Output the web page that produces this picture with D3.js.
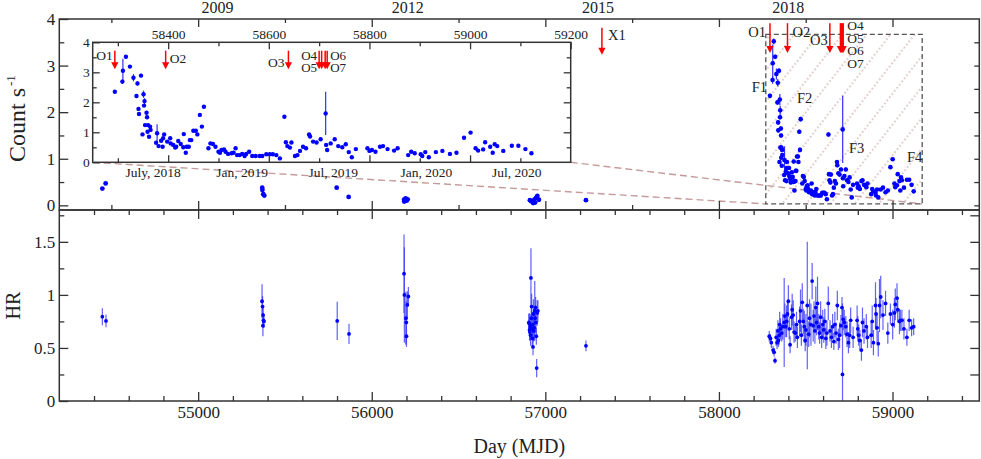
<!DOCTYPE html>
<head>
  <meta charset="utf-8">
  <script src="https://d3js.org/d3.v7.min.js"></script>
  <style>
    body { margin: 0; background: #fff; }
    svg { display: block; }
    text { font-family: "Liberation Serif", "DejaVu Serif", serif; fill: #222; }
  </style>
</head>

<body>
  <svg width="981" height="459"></svg>

  <script>
    // ---- data ----
    // flare monitoring 2018-2020 (inset + hatched box)
    const flareMjd = [58294, 58309, 58310, 58316, 58324, 58331, 58339, 58346, 58337, 58341, 58342, 58351, 58353, 58352,
      58357, 58358, 58354, 58360, 58364, 58349, 58359, 58365, 58362, 58376, 58378, 58381, 58386, 58389, 58392, 58390,
      58398, 58404, 58405, 58410, 58414, 58416, 58420, 58425, 58430, 58431, 58435, 58437, 58441, 58443, 58446, 58450,
      58455, 58458, 58463, 58467, 58471, 58480, 58484, 58489, 58494, 58500, 58503, 58506, 58511, 58514, 58519, 58526,
      58530, 58534, 58537, 58542, 58547, 58552, 58555, 58561, 58567, 58574, 58582, 58587, 58595, 58602, 58608, 58615,
      58622, 58631, 58634, 58637, 58642, 58645, 58652, 58657, 58662, 58668, 58674, 58680, 58682, 58688, 58695, 58703,
      58713, 58714, 58716, 58723, 58731, 58738, 58746, 58753, 58759, 58765, 58773, 58796, 58800, 58805, 58812, 58821,
      58827, 58836, 58849, 58856, 58877, 58883, 58890, 58902, 58905, 58911, 58918, 58932, 58945, 58960, 58973, 58988,
      59001, 59011, 59016, 59026, 59030, 59040, 59045, 59049, 59054, 59066, 59083, 59096, 59110, 59122];
    const flareRate = [2.35, 2.69, 3.05, 3.52, 3.19, 2.82, 2.63, 2.89, 2.21, 1.78, 1.61, 2.27, 2.04, 1.89,
      1.65, 1.50, 1.24, 1.24, 1.19, 0.93, 1.02, 1.08, 0.85, 0.65, 0.97, 0.54, 0.72, 0.52, 0.93, 0.80,
      0.69, 0.80, 0.63, 0.58, 0.49, 0.52, 0.71, 0.61, 0.50, 0.94, 0.32, 0.52, 0.52, 0.74, 0.74, 1.05,
      1.05, 0.93, 1.58, 1.19, 1.85, 0.47, 0.63, 0.61, 0.52, 0.35, 0.32, 0.41, 0.43, 0.35, 0.28, 0.30,
      0.32, 0.47, 0.24, 0.24, 0.28, 0.21, 0.28, 0.35, 0.21, 0.21, 0.21, 0.21, 0.27, 0.27, 0.27, 0.24,
      0.13, 1.52, 0.67, 0.54, 0.49, 0.66, 0.21, 0.24, 0.38, 0.52, 0.47, 0.93, 0.86, 0.69, 0.66, 0.77,
      1.63, 0.58, 0.41, 0.63, 0.77, 0.54, 0.50, 0.60, 0.34, 0.17, 0.44, 0.47, 0.38, 0.41, 0.35, 0.52,
      0.54, 0.44, 0.39, 0.47, 0.24, 0.35, 0.30, 0.27, 0.21, 0.34, 0.17, 0.34, 0.38, 0.28, 0.32, 0.82,
      0.99, 0.47, 0.39, 0.43, 0.67, 0.52, 0.32, 0.60, 0.54, 0.38, 0.55, 0.55, 0.44, 0.30];
    const flareErr = [0.05, 0.08, 0.40, 0.06, 0.05, 0.12, 0.08, 0.06, 0.05, 0.05, 0.05, 0.12, 0.10, 0.05,
      0.05, 0.05, 0.05, 0.05, 0.05, 0.04, 0.04, 0.04, 0.04, 0.04, 0.30, 0.04, 0.04, 0.04, 0.04, 0.04,
      0.04, 0.04, 0.04, 0.04, 0.04, 0.04, 0.04, 0.04, 0.04, 0.04, 0.03, 0.04, 0.04, 0.04, 0.04, 0.04,
      0.04, 0.04, 0.05, 0.05, 0.05, 0.03, 0.03, 0.03, 0.03, 0.03, 0.03, 0.03, 0.03, 0.03, 0.03, 0.03,
      0.03, 0.03, 0.03, 0.03, 0.03, 0.03, 0.03, 0.03, 0.03, 0.03, 0.03, 0.03, 0.03, 0.03, 0.03, 0.03,
      0.03, 0.05, 0.04, 0.04, 0.04, 0.04, 0.03, 0.03, 0.03, 0.04, 0.04, 0.04, 0.04, 0.04, 0.04, 0.04,
      0.72, 0.04, 0.04, 0.04, 0.04, 0.04, 0.04, 0.04, 0.03, 0.03, 0.03, 0.03, 0.03, 0.03, 0.03, 0.03,
      0.03, 0.03, 0.03, 0.03, 0.03, 0.03, 0.03, 0.03, 0.03, 0.03, 0.03, 0.03, 0.03, 0.03, 0.03, 0.04,
      0.04, 0.03, 0.03, 0.03, 0.04, 0.03, 0.03, 0.03, 0.03, 0.03, 0.03, 0.03, 0.03, 0.03];

    // archival count rates
    const archMjd = [54448, 54467, 55369, 55370, 55375, 55381, 55798, 55867, 56186, 56187, 56195, 56201, 56207,
      56911, 56918, 56925, 56930, 56936, 56941, 56946, 56954, 56963, 57234];
    const archRate = [0.36, 0.47, 0.38, 0.33, 0.24, 0.21, 0.38, 0.18, 0.12, 0.08, 0.15, 0.10, 0.13,
      0.11, 0.09, 0.08, 0.05, 0.12, 0.06, 0.16, 0.20, 0.12, 0.11];

    // hardness ratio
    const hrMjd = [54448, 54469, 55368, 55371, 55373, 55374, 55376, 55379, 55801, 55869,
      56186, 56188, 56197, 56199, 56200, 56205, 56211,
      56905, 56907, 56909, 56911, 56913, 56915, 56917, 56919, 56921, 56923, 56925, 56927, 56929, 56931,
      56933, 56936, 56939, 56941, 56944, 56946, 56948, 56950, 56953, 56957, 57234,
      58290, 58297, 58302, 58312, 58318, 58323, 58330, 58335, 58340, 58343, 58347, 58350, 58355, 58362,
      58368, 58376, 58380, 58385, 58390, 58395, 58400, 58405, 58410, 58418, 58422, 58428, 58433, 58440,
      58447, 58452, 58465, 58470, 58475, 58480, 58486, 58492, 58497, 58501, 58509, 58517, 58522, 58530,
      58537, 58543, 58548, 58553, 58558, 58563, 58568, 58575, 58580, 58586, 58592, 58598, 58604, 58610,
      58616, 58622, 58630, 58640, 58648, 58655, 58662, 58668, 58675, 58682, 58688, 58695, 58703, 58709,
      58712, 58716, 58722, 58731, 58738, 58746, 58753, 58759, 58773, 58796, 58800, 58805, 58812, 58821,
      58827, 58836, 58849, 58856, 58877, 58883, 58890, 58902, 58905, 58911, 58918, 58925, 58932, 58945,
      58960, 58973, 58988, 59001, 59011, 59016, 59026, 59030, 59040, 59045, 59054, 59066, 59083, 59096,
      59110, 59122];
    const hrVal = [0.795, 0.755, 0.94, 0.89, 0.71, 0.81, 0.76, 0.75, 0.755, 0.632,
      1.20, 1.00, 0.78, 0.74, 0.61, 0.905, 0.985,
      0.74, 0.73, 0.67, 0.65, 0.70, 0.62, 1.16, 0.78, 0.89, 0.68, 0.59, 0.72, 0.51, 0.82,
      0.66, 0.69, 0.85, 0.78, 0.88, 0.74, 0.61, 0.31, 0.83, 0.85, 0.52,
      0.61, 0.59, 0.55, 0.48, 0.46, 0.38, 0.60, 0.55, 0.66, 0.57, 0.62, 0.72, 0.68, 0.64,
      0.70, 0.74, 0.80, 0.70, 0.75, 0.82, 0.94, 0.68, 0.53, 0.79, 0.86, 0.81, 0.65, 0.64,
      0.72, 0.60, 0.75, 0.85, 0.62, 0.93, 0.75, 0.70, 0.57, 0.67, 0.90, 0.63, 0.78, 0.72,
      1.13, 0.71, 0.80, 0.66, 0.88, 0.74, 0.92, 0.70, 0.64, 0.79, 0.60, 0.72, 0.67, 0.75,
      0.59, 0.64, 0.92, 0.66, 0.60, 0.70, 0.56, 0.72, 0.64, 0.90, 0.58, 0.62, 0.71, 0.88,
      0.25, 0.77, 0.74, 0.70, 0.63, 0.55, 0.62, 0.76, 0.60, 0.76, 0.68, 0.62, 0.57, 0.48,
      0.74, 0.66, 0.70, 0.60, 0.62, 0.75, 0.55, 0.90, 0.82, 0.69, 0.54, 0.90, 0.98, 0.81,
      0.92, 0.64, 0.82, 0.72, 0.83, 0.91, 0.97, 0.86, 0.75, 0.76, 0.76, 0.68, 0.60, 0.76,
      0.69, 0.70];
    const hrErr = [0.08, 0.06, 0.16, 0.10, 0.10, 0.08, 0.07, 0.06, 0.18, 0.095,
      0.37, 0.45, 0.25, 0.20, 0.10, 0.13, 0.09,
      0.08, 0.10, 0.10, 0.08, 0.12, 0.10, 0.28, 0.10, 0.12, 0.10, 0.08, 0.12, 0.08, 0.14,
      0.10, 0.12, 0.28, 0.12, 0.10, 0.10, 0.08, 0.085, 0.12, 0.10, 0.05,
      0.05, 0.04, 0.05, 0.04, 0.04, 0.03, 0.08, 0.06, 0.10, 0.06, 0.09, 0.12, 0.10, 0.08,
      0.12, 0.42, 0.12, 0.10, 0.15, 0.12, 0.15, 0.10, 0.08, 0.12, 0.15, 0.14, 0.10, 0.08,
      0.12, 0.10, 0.14, 0.20, 0.10, 0.18, 0.12, 0.15, 0.10, 0.15, 0.60, 0.12, 0.18, 0.20,
      0.17, 0.15, 0.14, 0.12, 0.20, 0.12, 0.25, 0.12, 0.10, 0.15, 0.10, 0.14, 0.12, 0.12,
      0.10, 0.12, 0.16, 0.10, 0.10, 0.12, 0.08, 0.12, 0.10, 0.14, 0.10, 0.12, 0.10, 0.10,
      0.67, 0.10, 0.12, 0.10, 0.12, 0.10, 0.12, 0.12, 0.10, 0.14, 0.12, 0.10, 0.10, 0.10,
      0.14, 0.12, 0.12, 0.10, 0.12, 0.15, 0.12, 0.22, 0.15, 0.14, 0.12, 0.25, 0.20, 0.14,
      0.12, 0.10, 0.10, 0.14, 0.14, 0.15, 0.14, 0.12, 0.12, 0.10, 0.10, 0.10, 0.08, 0.10,
      0.08, 0.08];

    // observation markers
    const obsLabels = ['O1', 'O2', 'O3', 'O4', 'O5', 'O6', 'O7'];
    const obsMjd = [58294, 58395, 58639, 58700, 58705, 58712, 58716];
    const xrayLabel = 'X1';
    const xrayMjd = 57326;
    const flareLabels = ['F1', 'F2', 'F3', 'F4'];
    const flareLabelMjd = [58277, 58450, 58749, 59083];
    const flareLabelRate = [2.43, 2.19, 1.12, 0.93];

    // zoomed window and axis labels
    const boxMjd = [58270, 59171];
    const boxRate = [0.03, 3.67];
    const yearTicks = [2009, 2012, 2015, 2018];
    const yearMjd = [55108, 58396];   // where the 2009 and 2018 labels sit
    const insetDateLabels = ['July, 2018', 'Jan, 2019', 'Jul, 2019', 'Jan, 2020', 'Jul, 2020'];
    const insetDateMjd = [58369, 58546, 58727, 58912, 59092];

    // ---- layout ----
    const svg = d3.select('svg');
    const L = 59.3, R = 979.3, T = 19, MID = 210, B = 401;
    const IL = 92.7, IR = 570.7, IT = 42.3, IB = 162.3;
    const ink = '#333';
    const blue = '#0000ff';
    const red = '#ff0000';
    const rosy = '#c49a9a';

    const x = d3.scaleLinear().domain([54200, 59500]).range([L, R]);
    const yTop = d3.scaleLinear().domain([-0.1, 4]).range([MID, T]);
    const yHr = d3.scaleLinear().domain([0, 1.8]).range([B, MID]);
    const xIn = d3.scaleLinear().domain([58250, 59200]).range([IL, IR]);
    const yIn = d3.scaleLinear().domain([0, 4]).range([IB, IT]);
    const xYear = d3.scaleLinear().domain([yearTicks[0], yearTicks[3]]).range([x(yearMjd[0]), x(yearMjd[1])]);

    const range = (a, b, s) => d3.range(a, b + s / 2, s);
    const notIn = (arr, step) => arr.filter(v => Math.abs(v / step - Math.round(v / step)) > 1e-6);

    // generic tick drawer: inward ticks, optional labels
    function ticks(gen, at, vals, size, fmt, fs, pad) {
      const g = svg.append('g').attr('transform', at);
      g.call(gen.tickValues(vals).tickSize(size).tickPadding(pad || 4).tickFormat(fmt || (() => '')));
      g.select('.domain').remove();
      g.attr('font-family', null).attr('font-size', fs || 17).attr('color', ink);
      g.selectAll('line').attr('stroke-width', 1.3);
      return g;
    }

    const defs = svg.append('defs');
    const pat = defs.append('pattern').attr('id', 'hatch').attr('patternUnits', 'userSpaceOnUse')
      .attr('width', 19).attr('height', 20).attr('patternTransform', 'rotate(38)');
    pat.append('line').attr('x1', 1).attr('x2', 1).attr('y1', 0).attr('y2', 20)
      .attr('stroke', rosy).attr('stroke-width', 1.2).attr('stroke-dasharray', '1.5,2.5');
    defs.append('clipPath').attr('id', 'clipTop').append('rect')
      .attr('x', L).attr('y', T).attr('width', R - L).attr('height', MID - T);
    defs.append('clipPath').attr('id', 'clipHr').append('rect')
      .attr('x', L).attr('y', MID).attr('width', R - L).attr('height', B - MID);

    // ---- top panel ----
    const bx0 = x(boxMjd[0]), bx1 = x(boxMjd[1]), by0 = yTop(boxRate[0]), by1 = yTop(boxRate[1]);
    svg.append('rect').attr('x', bx0).attr('y', by1).attr('width', bx1 - bx0).attr('height', by0 - by1)
      .attr('fill', 'url(#hatch)');

    // connectors from inset to zoomed window
    svg.append('g').attr('stroke', rosy).attr('stroke-width', 1.4).attr('stroke-dasharray', '7,4')
      .selectAll('line').data([[IL, bx0], [IR, bx1]]).join('line')
      .attr('x1', d => d[0]).attr('y1', IB).attr('x2', d => d[1]).attr('y2', by0);

    svg.append('rect').attr('x', bx0).attr('y', by1).attr('width', bx1 - bx0).attr('height', by0 - by1)
      .attr('fill', 'none').attr('stroke', '#555').attr('stroke-width', 1.3).attr('stroke-dasharray', '5,3');

    const topG = svg.append('g').attr('clip-path', 'url(#clipTop)');
    topG.append('g').attr('stroke', '#3030ff').attr('stroke-width', 1.2)
      .selectAll('line').data(flareMjd.map((m, i) => i)).join('line')
      .attr('x1', i => x(flareMjd[i])).attr('x2', i => x(flareMjd[i]))
      .attr('y1', i => yTop(flareRate[i] - flareErr[i])).attr('y2', i => yTop(flareRate[i] + flareErr[i]));
    topG.append('g').attr('fill', blue)
      .selectAll('circle').data(flareMjd.map((m, i) => i)).join('circle')
      .attr('cx', i => x(flareMjd[i])).attr('cy', i => yTop(flareRate[i])).attr('r', 2.3);
    topG.append('g').attr('fill', blue)
      .selectAll('circle').data(archMjd.map((m, i) => i)).join('circle')
      .attr('cx', i => x(archMjd[i])).attr('cy', i => yTop(archRate[i])).attr('r', 2.4);

    // arrows
    function arrow(px, yA, yB, w) {
      const hl = 7, hw = 3.6;
      svg.append('line').attr('x1', px).attr('x2', px).attr('y1', yA).attr('y2', yB - hl + 1)
        .attr('stroke', red).attr('stroke-width', w || 1.5);
      svg.append('path').attr('d', `M${px - hw},${yB - hl}L${px + hw},${yB - hl}L${px},${yB}Z`).attr('fill', red);
    }
    obsMjd.forEach(m => arrow(x(m), yTop(3.91), yTop(3.27)));
    arrow(x(xrayMjd), yTop(3.81), yTop(3.23));

    const lab = (t, px, py, anchor, fs) => svg.append('text').attr('x', px).attr('y', py)
      .attr('text-anchor', anchor || 'start').attr('font-size', fs || 15).text(t);
    lab(obsLabels[0], x(obsMjd[0]) - 4, 37, 'end', 14.5);
    lab(obsLabels[1], x(obsMjd[1]) + 5, 37, 'start', 14.5);
    lab(obsLabels[2], x(obsMjd[2]) - 2, 45, 'end', 14.5);
    [30, 42.5, 55, 67.5].forEach((py, k) => lab(obsLabels[3 + k], x(obsMjd[6]) + 4, py, 'start', 13.5));
    lab(xrayLabel, x(xrayMjd) + 6, 40, 'start', 14.5);
    flareLabels.forEach((t, i) => lab(t, x(flareLabelMjd[i]), yTop(flareLabelRate[i]), i === 0 ? 'end' : 'start', 14.5));

    // frame + ticks, top panel
    svg.append('rect').attr('x', L).attr('y', T).attr('width', R - L).attr('height', MID - T)
      .attr('fill', 'none').attr('stroke', ink).attr('stroke-width', 1.5);
    ticks(d3.axisLeft(yTop), `translate(${L},0)`, range(0, 4, 1), -9, d3.format('d'), 17, 4);
    ticks(d3.axisLeft(yTop), `translate(${L},0)`, range(0.5, 3.5, 1), -5);
    ticks(d3.axisRight(yTop), `translate(${R},0)`, range(0, 3.5, 0.5), -5);
    ticks(d3.axisTop(x), `translate(0,${MID})`, range(55000, 59000, 1000), 9);
    ticks(d3.axisTop(x), `translate(0,${MID})`, range(54500, 59000, 1000), 5);
    ticks(d3.axisBottom(x), `translate(0,${T})`, range(55000, 59000, 1000), 8);
    ticks(d3.axisBottom(x), `translate(0,${T})`, range(54500, 59000, 1000), 4);
    ticks(d3.axisTop(xYear), `translate(0,${T})`, yearTicks, 0, d3.format('d'), 16, 6.5);

    // ---- inset ----
    svg.append('rect').attr('x', IL).attr('y', IT).attr('width', IR - IL).attr('height', IB - IT)
      .attr('fill', '#fff');
    const inG = svg.append('g');
    inG.append('g').attr('stroke', '#3030ff').attr('stroke-width', 1.2)
      .selectAll('line').data(flareMjd.map((m, i) => i)).join('line')
      .attr('x1', i => xIn(flareMjd[i])).attr('x2', i => xIn(flareMjd[i]))
      .attr('y1', i => yIn(flareRate[i] - flareErr[i])).attr('y2', i => yIn(flareRate[i] + flareErr[i]));
    inG.append('g').attr('fill', blue)
      .selectAll('circle').data(flareMjd.map((m, i) => i)).join('circle')
      .attr('cx', i => xIn(flareMjd[i])).attr('cy', i => yIn(flareRate[i])).attr('r', 2.2);
    obsMjd.forEach(m => arrow(xIn(m), yIn(3.72), yIn(3.1)));
    lab(obsLabels[0], xIn(obsMjd[0]) - 2, 60, 'end', 13.5);
    lab(obsLabels[1], xIn(obsMjd[1]) + 4, 62.5, 'start', 13.5);
    lab(obsLabels[2], xIn(obsMjd[2]) - 4, 67, 'end', 13.5);
    lab(obsLabels[3], xIn(obsMjd[3]) - 2, 59.5, 'end', 13);
    lab(obsLabels[4], xIn(obsMjd[3]) - 2, 72, 'end', 13);
    lab(obsLabels[5], xIn(obsMjd[6]) + 3, 59.5, 'start', 13);
    lab(obsLabels[6], xIn(obsMjd[6]) + 3, 72, 'start', 13);

    svg.append('rect').attr('x', IL).attr('y', IT).attr('width', IR - IL).attr('height', IB - IT)
      .attr('fill', 'none').attr('stroke', ink).attr('stroke-width', 1.5);
    ticks(d3.axisLeft(yIn), `translate(${IL},0)`, range(0, 4, 1), -7, d3.format('d'), 13.5, 3);
    ticks(d3.axisLeft(yIn), `translate(${IL},0)`, range(0.5, 3.5, 1), -4);
    ticks(d3.axisRight(yIn), `translate(${IR},0)`, range(1, 3, 1), -7);
    ticks(d3.axisRight(yIn), `translate(${IR},0)`, range(0.5, 3.5, 1), -4);
    ticks(d3.axisTop(xIn), `translate(0,${IT})`, range(58400, 59200, 200), -7, d3.format('d'), 13.5, 3.8);
    ticks(d3.axisTop(xIn), `translate(0,${IT})`, range(58300, 59100, 200), -4);
    ticks(d3.axisBottom(xIn), `translate(0,${IB})`, range(58400, 59000, 200), -7);
    ticks(d3.axisBottom(xIn), `translate(0,${IB})`, range(58300, 59100, 200), -4);
    ticks(d3.axisBottom(xIn), `translate(0,${IB})`, insetDateMjd, 0, (d, i) => insetDateLabels[i], 13.5, 5);

    // ---- hardness ratio panel ----
    const hrG = svg.append('g').attr('clip-path', 'url(#clipHr)');
    hrG.append('g').attr('stroke', '#3a3aff').attr('stroke-opacity', 0.8).attr('stroke-width', 1.2)
      .selectAll('line').data(hrMjd.map((m, i) => i)).join('line')
      .attr('x1', i => x(hrMjd[i])).attr('x2', i => x(hrMjd[i]))
      .attr('y1', i => yHr(hrVal[i] - hrErr[i])).attr('y2', i => yHr(hrVal[i] + hrErr[i]));
    hrG.append('g').attr('fill', blue)
      .selectAll('circle').data(hrMjd.map((m, i) => i)).join('circle')
      .attr('cx', i => x(hrMjd[i])).attr('cy', i => yHr(hrVal[i])).attr('r', 1.9);

    svg.append('rect').attr('x', L).attr('y', MID).attr('width', R - L).attr('height', B - MID)
      .attr('fill', 'none').attr('stroke', ink).attr('stroke-width', 1.5);
    ticks(d3.axisLeft(yHr), `translate(${L},0)`, range(0, 1.5, 0.5), -9, d3.format('~g'), 17, 4);
    ticks(d3.axisLeft(yHr), `translate(${L},0)`, range(0.25, 1.75, 0.5), -5);
    ticks(d3.axisRight(yHr), `translate(${R},0)`, range(0.25, 1.75, 0.25), -9);
    const minor200 = notIn(range(54400, 59400, 200), 1000);
    ticks(d3.axisBottom(x), `translate(0,${MID})`, range(55000, 59000, 1000), 9);
    ticks(d3.axisBottom(x), `translate(0,${MID})`, minor200, 5);
    ticks(d3.axisBottom(x), `translate(0,${B})`, range(55000, 59000, 1000), -9, d3.format('d'), 17, 5);
    ticks(d3.axisBottom(x), `translate(0,${B})`, minor200, -5);

    // ---- axis titles ----
    svg.append('text').attr('x', (L + R) / 2).attr('y', 453).attr('text-anchor', 'middle')
      .attr('font-size', 20).text('Day (MJD)');
    svg.append('text').attr('transform', `translate(20,${(MID + B) / 2}) rotate(-90)`)
      .attr('text-anchor', 'middle').attr('font-size', 20).text('HR');
    const ct = svg.append('text').attr('transform', 'translate(25,162) rotate(-90)')
      .attr('font-size', 24).text('Count s');
    ct.append('tspan').attr('dx', 2).attr('dy', -10).attr('font-size', 13).text('-1');
  </script>
</body>
